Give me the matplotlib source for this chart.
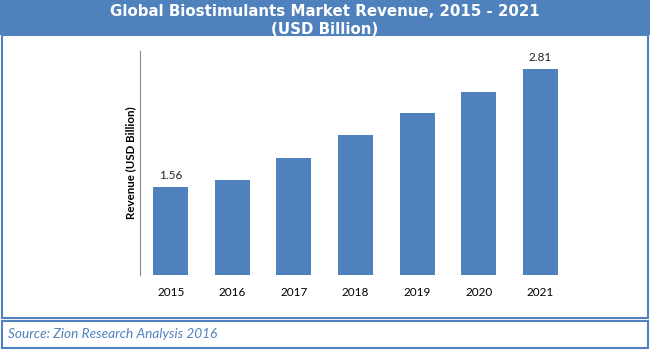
import matplotlib.pyplot as plt
from matplotlib.patches import Rectangle

years = ["2015", "2016", "2017", "2018", "2019", "2020", "2021"]
revenue = [1.56, 1.63, 1.87, 2.11, 2.34, 2.57, 2.81]
# only first and last bar carry a label in the source chart
labels = {0: "1.56", 6: "2.81"}

blue = "#4F81BD"
W, H = 650, 350

fig = plt.figure(figsize=(6.5, 3.5), dpi=100)
fig.patch.set_facecolor("white")

def px_rect(x0, y0, x1, y1, **kw):
    # rectangle in pixel coords measured from the top-left corner
    r = Rectangle((x0 / W, 1 - y1 / H), (x1 - x0) / W, (y1 - y0) / H,
                  transform=fig.transFigure, **kw)
    fig.patches.append(r)

# title banner and frames
px_rect(0, 0, 650, 35, facecolor=blue, edgecolor="none")
px_rect(1.5, 35, 648, 318, facecolor="none", edgecolor=blue, linewidth=1.5)
px_rect(1.5, 321, 648, 348, facecolor="none", edgecolor=blue, linewidth=1.5)

fig.text(0.5, 1 - 12 / H, "Global Biostimulants Market Revenue, 2015 - 2021",
         ha="center", va="center", color="white", fontsize=10.8,
         fontweight="bold", family="DejaVu Sans")
fig.text(0.5, 1 - 29.5 / H, "(USD Billion)", ha="center", va="center",
         color="white", fontsize=10.8, fontweight="bold", family="DejaVu Sans")
fig.text(8 / W, 1 - 334 / H, "Source: Zion Research Analysis 2016",
         ha="left", va="center", color=blue, fontsize=9.8, style="italic",
         family="Lato")

ax = fig.add_axes([140 / W, 1 - 275 / H, 431 / W, 224 / H])
x = range(len(years))
bars = ax.bar(x, revenue, width=0.57, color=blue)
for i, txt in labels.items():
    ax.text(i, revenue[i] + 0.06, txt, ha="center", va="bottom",
            fontsize=8.5, family="Lato", color="#222222")

ax.set_xlim(-0.5, 6.5)
ax.set_ylim(0.63, 3.0)
ax.set_xticks(list(x))
ax.set_xticklabels(years, fontsize=8.5, family="Lato")
ax.tick_params(axis="x", length=0, pad=9)
ax.set_yticks([])
for s in ["top", "right", "bottom"]:
    ax.spines[s].set_visible(False)
ax.spines["left"].set_color("#888888")
ax.set_ylabel("Revenue (USD Billion)", fontsize=8.3, fontweight="bold",
              family="Lato", labelpad=3)

fig.savefig("out.png", dpi=100)
